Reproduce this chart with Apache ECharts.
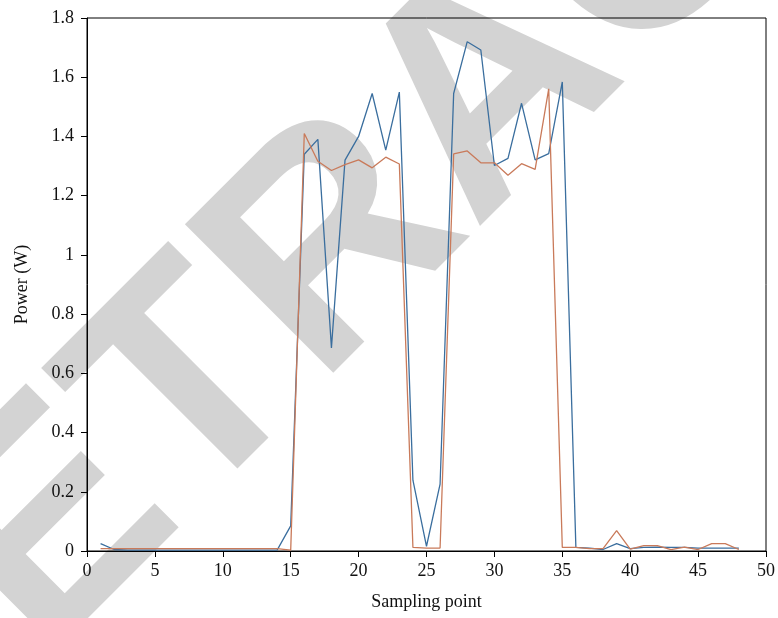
<!DOCTYPE html>
<html>
<head>
<meta charset="utf-8">
<script src="https://cdn.jsdelivr.net/npm/echarts@6/dist/echarts.min.js"></script>
<style>
html, body { margin: 0; padding: 0; background: #fff; }
#chart { width: 778px; height: 618px; }
</style>
</head>
<body>
<div id="chart"></div>
<script>
var samplePoints = [1,2,3,4,5,6,7,8,9,10,11,12,13,14,15,16,17,18,19,20,21,22,23,24,25,26,27,28,29,30,31,32,33,34,35,36,37,38,39,40,41,42,43,44,45,46,47,48];
var bluePower = [0.025,0.005,0.003,0.003,0.003,0.003,0.003,0.003,0.003,0.003,0.003,0.003,0.003,0.003,0.085,1.34,1.39,0.686,1.32,1.40,1.545,1.354,1.55,0.239,0.016,0.226,1.545,1.72,1.692,1.302,1.326,1.512,1.321,1.342,1.584,0.012,0.01,0.005,0.025,0.008,0.012,0.013,0.012,0.012,0.01,0.01,0.01,0.01];
var orangePower = [0.008,0.008,0.008,0.008,0.008,0.008,0.008,0.008,0.008,0.008,0.008,0.008,0.008,0.008,0.003,1.41,1.316,1.285,1.305,1.321,1.294,1.33,1.307,0.012,0.01,0.01,1.341,1.351,1.311,1.311,1.269,1.308,1.289,1.561,0.012,0.012,0.008,0.008,0.069,0.006,0.018,0.018,0.005,0.013,0.005,0.025,0.025,0.005];
var xTicks = { min: 0, max: 50, step: 5 };
var yTicks = { min: 0, max: 1.8, step: 0.2 };

function pairs(xs, ys) {
    return xs.map(function (x, i) { return [x, ys[i]]; });
}

var myChart = echarts.init(document.getElementById("chart"));
var serif = '"Liberation Serif", "DejaVu Serif", serif';

var option = {
    animation: false,
    backgroundColor: '#fff',
    graphic: [
        {
            // watermark behind the plot
            type: 'text',
            z: -10,
            x: 493,
            y: 94,
            rotation: Math.PI / 4,
            silent: true,
            style: {
                text: 'RETRACTED',
                fill: '#d3d3d3',
                font: 'bold 305px "Liberation Sans", Arial, sans-serif',
                textAlign: 'center',
                textVerticalAlign: 'middle'
            }
        }
    ],
    grid: {
        left: 87,
        right: 10,
        top: 18,
        bottom: 67,
        show: true,
        borderColor: '#000',
        borderWidth: 1
    },
    xAxis: {
        type: 'value',
        min: xTicks.min,
        max: xTicks.max,
        interval: xTicks.step,
        name: 'Sampling point',
        nameLocation: 'middle',
        nameGap: 42,
        nameTextStyle: { fontFamily: serif, fontSize: 18, color: '#111' },
        axisLine: { lineStyle: { color: '#000', width: 1 } },
        axisTick: { length: 6, lineStyle: { color: '#000' } },
        axisLabel: { fontFamily: serif, fontSize: 18, color: '#111', margin: 11 },
        splitLine: { show: false }
    },
    yAxis: {
        type: 'value',
        min: yTicks.min,
        max: yTicks.max,
        interval: yTicks.step,
        name: 'Power (W)',
        nameLocation: 'middle',
        nameGap: 56,
        nameTextStyle: { fontFamily: serif, fontSize: 18, color: '#111' },
        axisLine: { show: true, lineStyle: { color: '#000', width: 1 } },
        axisTick: { show: true, length: 6, lineStyle: { color: '#000' } },
        axisLabel: { fontFamily: serif, fontSize: 18, color: '#111', margin: 13 },
        splitLine: { show: false }
    },
    series: [
        {
            name: 'blue',
            type: 'line',
            showSymbol: false,
            data: pairs(samplePoints, bluePower),
            lineStyle: { color: '#3a6e9e', width: 1.3 },
            itemStyle: { color: '#3a6e9e' }
        },
        {
            name: 'orange',
            type: 'line',
            showSymbol: false,
            data: pairs(samplePoints, orangePower),
            lineStyle: { color: '#c97a5a', width: 1.3 },
            itemStyle: { color: '#c97a5a' }
        }
    ]
};
myChart.setOption(option);
window.addEventListener("resize", function () {
    myChart.resize();
});
</script>
</body>
</html>
